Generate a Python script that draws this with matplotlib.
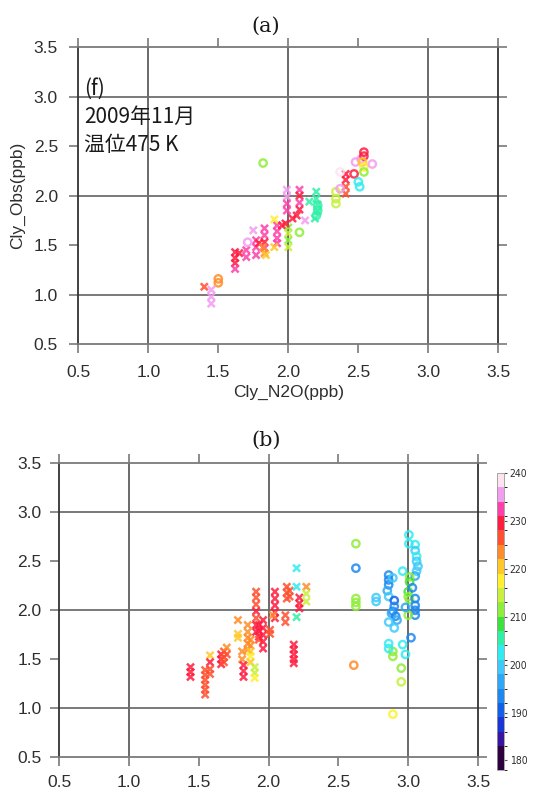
import numpy as np
import matplotlib
matplotlib.use("Agg")
import matplotlib.pyplot as plt
from matplotlib.colors import ListedColormap, BoundaryNorm
from matplotlib.cm import ScalarMappable
from matplotlib import font_manager

# ---------------- data ----------------
tick_vals = [0.5, 1.0, 1.5, 2.0, 2.5, 3.0, 3.5]
tick_labels = ["0.5", "1.0", "1.5", "2.0", "2.5", "3.0", "3.5"]
grid_vals = [1.0, 2.0, 3.0]

# colour scale (potential temperature, K), bottom -> top
cbar_bounds = [178] + list(range(183, 241, 3))
cbar_colors = ["#2e0040", "#3a149e", "#1a36d6", "#1260e8", "#1c88f0", "#2ea8f6",
               "#3ecaf8", "#30ecf0", "#30f0a8", "#3ee03e", "#8eee3a", "#c8f03c",
               "#fff030", "#ffc828", "#ff8c28", "#ff5030", "#ff1c40", "#ff40a8",
               "#f39cf0", "#fde4ef"]
cbar_ticks = [180, 190, 200, 210, 220, 230, 240]

# panel (a): cross markers
a_x_cly_n2o = [1.40, 1.45, 1.45, 1.45, 1.62, 1.65, 1.62, 1.62, 1.62, 1.70, 1.70, 1.75,
               1.77, 1.77, 1.77, 1.79, 1.83, 1.83, 1.83, 1.83, 1.82, 1.83, 1.84, 1.92,
               1.92, 1.92, 1.92, 1.90, 1.90, 1.955, 1.99, 1.99, 1.99, 1.99, 2.00, 2.00,
               2.00, 2.00, 2.03, 1.98, 2.08, 2.08, 2.08, 2.08, 2.06, 2.12, 2.15, 2.20,
               2.20, 2.21, 2.21, 2.19, 2.41, 2.41, 2.41, 2.41]
a_x_cly_obs = [1.08, 1.05, 0.98, 0.91, 1.43, 1.42, 1.37, 1.32, 1.26, 1.45, 1.38, 1.65,
               1.55, 1.48, 1.40, 1.52, 1.67, 1.60, 1.53, 1.47, 1.48, 1.42, 1.40, 1.70,
               1.64, 1.57, 1.52, 1.76, 1.48, 1.70, 2.06, 1.99, 1.92, 1.85, 1.68, 1.62,
               1.55, 1.48, 1.77, 1.72, 2.06, 2.00, 1.93, 1.86, 1.80, 1.75, 1.94, 2.04,
               1.97, 1.91, 1.84, 1.77, 2.22, 2.16, 2.09, 2.02]
a_x_theta = [226, 235, 235, 235, 229, 229, 229, 229, 232, 232, 232, 235,
             232, 232, 232, 229, 232, 232, 229, 232, 223, 223, 220, 232,
             232, 232, 232, 218, 221, 229, 235, 235, 232, 232, 211, 213,
             211, 215, 229, 229, 232, 229, 232, 229, 229, 235, 205, 205,
             205, 205, 205, 205, 229, 229, 226, 226]

# panel (a): circle markers
a_o_cly_n2o = [1.82, 1.50, 1.50, 1.71, 2.08, 2.21, 2.21, 2.20, 2.34, 2.34, 2.34, 2.37,
               2.37, 2.47, 2.50, 2.51, 2.48, 2.52, 2.54, 2.54, 2.53, 2.54, 2.54, 2.60]
a_o_cly_obs = [2.33, 1.16, 1.12, 1.53, 1.63, 1.90, 1.85, 1.80, 2.04, 1.97, 1.92, 2.24,
               2.07, 2.22, 2.14, 2.09, 2.34, 2.37, 2.44, 2.40, 2.34, 2.29, 2.24, 2.32]
a_o_theta = [211, 224, 224, 236, 210, 205, 205, 205, 214, 214, 214, 238,
             235, 229, 203, 203, 235, 236, 229, 229, 219, 218, 211, 236]

# panel (b): cross markers
b_x_cly_n2o = [1.44, 1.44, 1.44,
               1.545, 1.545, 1.545, 1.545, 1.545, 1.545,
               1.58, 1.58, 1.58, 1.58,
               1.66, 1.66, 1.66, 1.68, 1.68, 1.68, 1.70, 1.70,
               1.78, 1.78, 1.78, 1.81, 1.81, 1.82, 1.82, 1.82,
               1.85, 1.85, 1.85, 1.85, 1.85,
               1.87, 1.87, 1.87, 1.87, 1.87, 1.90, 1.90, 1.90,
               1.91, 1.91, 1.91, 1.91, 1.91, 1.91, 1.91,
               1.93, 1.93, 1.93, 1.93,
               1.96, 1.96, 1.96, 1.96, 1.96, 2.01, 2.01,
               2.045, 2.045, 2.045, 2.045, 2.045, 2.03,
               2.12, 2.12, 2.13, 2.13, 2.13, 2.15, 2.15,
               2.18, 2.18, 2.18, 2.18, 2.18,
               2.20, 2.20, 2.20, 2.22, 2.22, 2.22, 2.27, 2.27, 2.27]
b_x_cly_obs = [1.42, 1.37, 1.32,
               1.39, 1.34, 1.29, 1.24, 1.19, 1.14,
               1.54, 1.47, 1.40, 1.35,
               1.55, 1.50, 1.45, 1.58, 1.52, 1.47, 1.62, 1.55,
               1.90, 1.76, 1.72, 1.58, 1.50, 1.44, 1.38, 1.32,
               1.85, 1.78, 1.72, 1.66, 1.60,
               1.70, 1.64, 1.58, 1.53, 1.47, 1.42, 1.36, 1.31,
               2.19, 2.13, 2.06, 1.99, 1.92, 1.85, 1.78,
               1.85, 1.79, 1.73, 1.70,
               1.90, 1.82, 1.75, 1.68, 1.61, 1.80, 1.76,
               2.19, 2.12, 2.05, 1.98, 1.92, 1.95,
               1.95, 1.88, 2.24, 2.18, 2.12, 2.20, 2.14,
               1.65, 1.60, 1.55, 1.50, 1.46,
               2.43, 2.24, 1.93, 2.13, 2.07, 2.02, 2.24, 2.17, 2.09]
b_x_theta = [229, 229, 229,
             226, 226, 226, 226, 226, 226,
             220, 229, 226, 226,
             229, 229, 229, 226, 226, 226, 224, 226,
             224, 220, 221, 224, 224, 229, 229, 229,
             224, 224, 224, 224, 224,
             222, 222, 220, 218, 221, 215, 214, 217,
             226, 226, 226, 229, 226, 229, 229,
             229, 229, 229, 226,
             229, 229, 229, 229, 229, 226, 226,
             229, 229, 229, 229, 229, 224,
             226, 226, 226, 226, 226, 226, 226,
             229, 229, 229, 229, 229,
             202, 202, 206, 229, 229, 229, 222, 215, 214]

# panel (b): circle markers
b_o_cly_n2o = [2.625, 2.625, 2.625, 2.625, 2.625, 2.61, 2.89, 2.95, 2.95, 2.89, 2.89,
               2.86, 2.86, 2.96, 2.98, 3.02, 2.86, 2.86, 2.86, 2.85, 2.86, 2.77, 2.77,
               2.89, 2.90, 2.90, 2.89, 2.88, 2.91, 2.92, 2.86, 2.90, 2.96, 3.005, 3.005,
               3.05, 3.05, 3.06, 3.06, 3.07, 3.06, 3.05, 3.01, 3.01, 3.00, 3.00, 3.01,
               3.03, 3.05, 3.05, 3.05, 3.05, 3.00, 2.98]
b_o_cly_obs = [2.68, 2.43, 2.12, 2.08, 2.04, 1.44, 0.94, 1.27, 1.41, 1.58, 1.53,
               1.66, 1.61, 1.65, 1.55, 1.72, 2.36, 2.31, 2.26, 2.20, 2.14, 2.13, 2.09,
               2.33, 2.10, 2.04, 1.99, 1.97, 1.94, 1.90, 1.88, 1.82, 2.40, 2.77, 2.68,
               2.67, 2.61, 2.55, 2.50, 2.45, 2.40, 2.35, 2.34, 2.29, 2.19, 2.14, 2.11,
               2.23, 2.12, 2.05, 2.00, 1.95, 1.95, 2.03]
b_o_theta = [211, 192, 212, 212, 212, 224, 218, 215, 211, 211, 211,
             201, 201, 201, 202, 192, 193, 193, 193, 197, 198, 198, 198,
             199, 190, 193, 193, 196, 193, 196, 199, 199, 201, 201, 202,
             201, 200, 201, 200, 199, 199, 197, 210, 209, 209, 210, 211,
             193, 193, 192, 193, 193, 210, 196]

# ---------------- drawing ----------------
cmap = ListedColormap(cbar_colors)
norm = BoundaryNorm(cbar_bounds, cmap.N)

W, H = 545, 792
fig = plt.figure(figsize=(W / 100, H / 100), dpi=100)


def box(x0, y0, x1, y1):
    return [x0 / W, 1 - y1 / H, (x1 - x0) / W, (y1 - y0) / H]


ax_a = fig.add_axes(box(78.3, 47.2, 498.3, 344.2))
ax_b = fig.add_axes(box(59.3, 463.3, 478.0, 757.3))
cax = fig.add_axes(box(497.0, 473.0, 503.5, 770.0))

label_font = "Liberation Sans"


def style_axes(ax, pad):
    ax.set_xlim(0.5, 3.5)
    ax.set_ylim(0.5, 3.5)
    ax.set_xticks(tick_vals)
    ax.set_yticks(tick_vals)
    ax.set_xticklabels(tick_labels, fontfamily=label_font)
    ax.set_yticklabels(tick_labels, fontfamily=label_font)
    ax.tick_params(direction="out", length=6.2, width=1.1, color="#6e6e6e",
                   top=True, right=True, labeltop=False, labelright=False,
                   pad=pad, labelsize=12.5, labelcolor="#2e2e2e")
    for v in grid_vals:
        ax.axvline(v, color="#5e5e5e", lw=1.3, zorder=0.5)
        ax.axhline(v, color="#6e6e6e", lw=1.3, zorder=0.5)
    for side in ("left", "right"):
        ax.spines[side].set_color("#333333")
        ax.spines[side].set_linewidth(1.3)
    for side in ("top", "bottom"):
        ax.spines[side].set_color("#7a7a7a")
        ax.spines[side].set_linewidth(1.3)


def draw_points(ax, xs, ys, ts, marker):
    cols = cmap(norm(np.asarray(ts)))
    if marker == "x":
        ax.scatter(xs, ys, marker="x", s=26, c=cols, linewidths=1.8,
                   alpha=0.85, zorder=3)
    else:
        ax.scatter(xs, ys, marker="o", s=28, facecolors="none", edgecolors=cols,
                   linewidths=1.7, alpha=0.85, zorder=3)


style_axes(ax_a, pad=8.5)
style_axes(ax_b, pad=6.5)

draw_points(ax_a, a_x_cly_n2o, a_x_cly_obs, a_x_theta, "x")
draw_points(ax_a, a_o_cly_n2o, a_o_cly_obs, a_o_theta, "o")
draw_points(ax_b, b_x_cly_n2o, b_x_cly_obs, b_x_theta, "x")
draw_points(ax_b, b_o_cly_n2o, b_o_cly_obs, b_o_theta, "o")

ax_a.set_xlabel("Cly_N2O(ppb)", fontfamily=label_font, fontsize=12.5,
                color="#2e2e2e", labelpad=4)
ax_a.set_ylabel("Cly_Obs(ppb)", fontfamily=label_font, fontsize=12.5,
                color="#2e2e2e", labelpad=6)

# annotation block in panel (a)
cjk = ["Noto Sans CJK JP", "DejaVu Sans"]
for txt, base in (("(f)", 95), ("2009年11月", 123), ("温位475 K", 151)):
    fig.text(84 / W, 1 - base / H, txt, fontfamily=cjk, fontsize=15,
             color="#1a1a1a", va="baseline", ha="left")

# panel titles
for txt, cx, base in (("(a)", 266, 32), ("(b)", 266, 446)):
    fig.text(cx / W, 1 - base / H, txt, fontfamily="DejaVu Serif", fontsize=15,
             color="#1a1a1a", va="baseline", ha="center")

# colour bar
names = {f.name for f in font_manager.fontManager.ttflist}
if "Liberation Sans Narrow" in names:
    cb_font = dict(family="Liberation Sans Narrow")
else:
    cb_font = dict(family="DejaVu Sans", stretch="condensed")

sm = ScalarMappable(norm=norm, cmap=cmap)
cb = fig.colorbar(sm, cax=cax, spacing="proportional", ticks=cbar_ticks)
cb.outline.set_edgecolor("#9a9a9a")
cb.outline.set_linewidth(0.6)
cax.tick_params(length=2.5, width=0.8, color="#555555", pad=2, labelsize=7.5,
                labelcolor="#2e2e2e")
for lab in cax.get_yticklabels():
    lab.set_fontfamily(cb_font["family"])
    if "stretch" in cb_font:
        lab.set_fontstretch(cb_font["stretch"])

fig.savefig("out.png", dpi=100)
